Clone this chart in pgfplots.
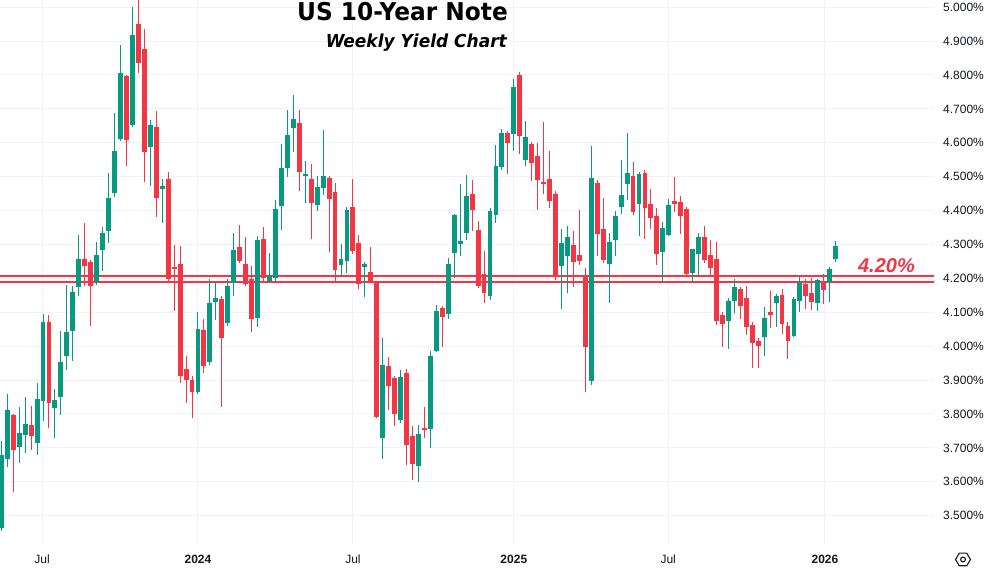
\documentclass[border=0pt]{standalone}
\usepackage{pgfplots}
\pgfplotsset{compat=1.18}
\usepackage{pgfplotstable}
\usepackage{fontspec}
\setmainfont{Liberation Sans}
\newfontfamily\titlefont{DejaVu Sans}[FakeStretch=0.95]
\definecolor{upcol}{HTML}{089981}
\definecolor{downcol}{HTML}{F23645}
\definecolor{gridcol}{HTML}{F0F3FA}
\definecolor{txtcol}{HTML}{131722}

\pgfplotstableread{
k o h l c
0 3.465 3.721 3.455 3.679
1 3.667 3.859 3.645 3.812
3 3.703 3.822 3.656 3.743
4 3.738 3.851 3.686 3.770
6 3.715 3.892 3.680 3.844
7 3.839 4.095 3.780 4.072
9 3.819 3.874 3.730 3.841
10 3.849 4.045 3.797 3.954
11 3.971 4.180 3.930 4.042
12 4.046 4.178 3.957 4.160
13 4.176 4.328 4.148 4.257
16 4.190 4.306 4.180 4.269
17 4.284 4.353 4.223 4.335
18 4.341 4.512 4.304 4.437
19 4.451 4.687 4.440 4.576
20 4.611 4.888 4.606 4.807
22 4.652 5.000 4.648 4.918
25 4.588 4.667 4.473 4.652
27 4.465 4.493 4.364 4.473
33 3.866 4.101 3.860 4.051
35 3.953 4.197 3.945 4.128
36 4.130 4.192 4.077 4.142
38 4.067 4.197 4.061 4.179
39 4.187 4.334 4.149 4.285
43 4.083 4.324 4.056 4.312
45 4.192 4.275 4.185 4.208
46 4.200 4.430 4.190 4.406
47 4.413 4.595 4.344 4.527
48 4.527 4.698 4.498 4.624
49 4.643 4.742 4.572 4.669
51 4.501 4.545 4.421 4.507
53 4.415 4.503 4.400 4.469
54 4.466 4.639 4.447 4.503
57 4.239 4.301 4.207 4.257
58 4.252 4.410 4.215 4.402
61 4.235 4.249 4.146 4.242
64 3.730 4.023 3.667 3.944
67 3.782 3.930 3.772 3.910
70 3.647 3.767 3.599 3.741
72 3.757 3.986 3.701 3.971
73 3.987 4.121 3.982 4.104
75 4.094 4.261 4.079 4.242
76 4.276 4.390 4.200 4.387
77 4.302 4.478 4.267 4.310
78 4.335 4.505 4.313 4.443
82 4.148 4.408 4.136 4.399
83 4.388 4.594 4.364 4.532
84 4.530 4.641 4.520 4.629
86 4.627 4.788 4.577 4.765
88 4.550 4.664 4.532 4.617
94 4.238 4.346 4.111 4.304
95 4.267 4.355 4.156 4.322
99 3.896 4.591 3.886 4.496
102 4.241 4.334 4.127 4.308
103 4.312 4.400 4.265 4.384
104 4.412 4.550 4.391 4.447
105 4.477 4.630 4.432 4.512
107 4.418 4.515 4.324 4.509
111 4.279 4.365 4.188 4.350
112 4.327 4.435 4.324 4.417
116 4.216 4.288 4.190 4.286
117 4.272 4.334 4.204 4.321
122 4.075 4.143 3.991 4.133
123 4.134 4.197 4.098 4.174
128 4.027 4.115 3.971 4.083
130 4.128 4.154 4.057 4.147
133 4.029 4.145 4.027 4.138
134 4.134 4.209 4.101 4.186
137 4.128 4.198 4.103 4.195
139 4.190 4.233 4.131 4.227
140 4.256 4.311 4.248 4.295
}\upc

\pgfplotstableread{
k o h l c
2 3.797 3.800 3.571 3.694
5 3.768 3.824 3.694 3.736
8 4.072 4.092 3.760 3.833
14 4.257 4.364 4.178 4.237
15 4.248 4.254 4.060 4.178
21 4.797 4.800 4.532 4.608
23 4.950 5.025 4.805 4.836
24 4.877 4.935 4.485 4.574
26 4.648 4.694 4.382 4.438
28 4.493 4.515 4.190 4.197
29 4.235 4.299 4.105 4.229
30 4.242 4.296 3.891 3.913
31 3.933 3.971 3.833 3.900
32 3.900 3.912 3.787 3.866
34 4.049 4.081 3.921 3.941
37 4.138 4.148 3.820 4.024
40 4.293 4.356 4.246 4.250
41 4.241 4.322 4.179 4.183
42 4.199 4.238 4.041 4.079
44 4.315 4.351 4.190 4.200
50 4.657 4.698 4.457 4.513
52 4.492 4.536 4.315 4.421
55 4.497 4.503 4.277 4.433
56 4.454 4.480 4.192 4.224
59 4.410 4.493 4.272 4.282
60 4.303 4.328 4.169 4.183
62 4.218 4.292 4.185 4.190
63 4.188 4.192 3.787 3.792
65 3.941 3.969 3.812 3.882
66 3.905 3.912 3.765 3.800
68 3.922 3.933 3.650 3.708
69 3.735 3.765 3.605 3.652
71 3.758 3.821 3.728 3.752
74 4.112 4.119 3.997 4.085
79 4.449 4.490 4.341 4.402
80 4.343 4.369 4.173 4.178
81 4.213 4.281 4.128 4.156
85 4.629 4.635 4.508 4.600
87 4.800 4.809 4.567 4.621
89 4.596 4.603 4.488 4.541
90 4.561 4.600 4.402 4.490
91 4.484 4.661 4.449 4.477
92 4.493 4.576 4.409 4.429
93 4.449 4.458 4.195 4.205
96 4.299 4.341 4.176 4.249
97 4.270 4.402 4.240 4.250
98 4.206 4.230 3.864 3.999
100 4.481 4.491 4.265 4.332
101 4.346 4.437 4.245 4.253
106 4.501 4.542 4.388 4.397
108 4.512 4.520 4.317 4.409
109 4.420 4.464 4.346 4.377
110 4.385 4.407 4.240 4.273
113 4.427 4.498 4.397 4.420
114 4.426 4.442 4.332 4.385
115 4.405 4.410 4.206 4.214
118 4.321 4.354 4.244 4.253
119 4.268 4.312 4.204 4.230
120 4.256 4.307 4.062 4.075
121 4.093 4.102 3.998 4.065
124 4.168 4.175 4.079 4.118
125 4.141 4.177 4.032 4.057
126 4.062 4.070 3.936 4.009
127 4.015 4.025 3.936 4.000
129 4.100 4.162 4.054 4.092
131 4.150 4.168 4.035 4.065
132 4.060 4.070 3.962 4.016
135 4.183 4.197 4.109 4.148
136 4.156 4.201 4.106 4.130
138 4.193 4.212 4.125 4.166
}\dnc

\begin{document}
\begin{tikzpicture}
\useasboundingbox (0,0) rectangle (985pt,572pt);
\fill[white] (0,0) rectangle (985pt,572pt);
\begin{axis}[
  at={(0pt,28pt)}, anchor=south west,
  scale only axis, width=934pt, height=544pt,
  xmin=-0.218, xmax=156.5, ymin=3.4165, ymax=5.0212,
  axis line style={draw=none},
  major tick length=0pt,
  xtick={6.83,33.0,59.0,86.0,111.9,138.2},
  xticklabels={Jul,\textbf{2024},Jul,\textbf{2025},Jul,\textbf{2026}},
  ytick={3.5,3.6,3.7,3.8,3.9,4.0,4.1,4.2,4.3,4.4,4.5,4.6,4.7,4.8,4.9,5.0},
  yticklabels={3.500\%,3.600\%,3.700\%,3.800\%,3.900\%,4.000\%,4.100\%,4.200\%,4.300\%,4.400\%,4.500\%,4.600\%,4.700\%,4.800\%,4.900\%,5.000\%},
  yticklabel pos=right,
  xmajorgrids, ymajorgrids,
  major grid style={gridcol, line width=1pt},
  tick label style={font=\fontsize{12}{14}\selectfont, text=txtcol},
  yticklabel style={anchor=west, inner sep=0pt, xshift=9pt},
  xticklabel style={anchor=center, inner sep=0pt, yshift=-15pt},
]
% support band
\addplot[downcol, line width=2pt, forget plot] coordinates {(-5,4.2062) (170,4.2062)};
\addplot[downcol, line width=2pt, forget plot] coordinates {(-5,4.1903) (170,4.1903)};
% wicks
\addplot[draw=none, mark=none, forget plot, error bars/.cd, y dir=plus, y explicit, error mark=none,
  error bar style={draw=upcol, line width=1pt, solid}]
  table[x=k, y=l, y error plus expr=\thisrow{h}-\thisrow{l}] {\upc};
\addplot[draw=none, mark=none, forget plot, error bars/.cd, y dir=plus, y explicit, error mark=none,
  error bar style={draw=downcol, line width=1pt, solid}]
  table[x=k, y=l, y error plus expr=\thisrow{h}-\thisrow{l}] {\dnc};
% bodies
\addplot[draw=none, mark=none, forget plot, error bars/.cd, y dir=plus, y explicit, error mark=none,
  error bar style={draw=upcol, line width=4.9pt, solid}]
  table[x=k, y=o, y error plus expr=\thisrow{c}-\thisrow{o}] {\upc};
\addplot[draw=none, mark=none, forget plot, error bars/.cd, y dir=plus, y explicit, error mark=none,
  error bar style={draw=downcol, line width=4.9pt, solid}]
  table[x=k, y=c, y error plus expr=\thisrow{o}-\thisrow{c}] {\dnc};
\end{axis}
\node[anchor=base east, inner sep=0pt, text=black, font=\titlefont\bfseries\fontsize{24.5}{28}\selectfont] at (508pt,551.3pt) {US 10-Year Note};
\node[anchor=base east, inner sep=0pt, text=black, font=\titlefont\bfseries\itshape\fontsize{17.9}{21}\selectfont] at (507pt,524.3pt) {Weekly Yield Chart};
\node[anchor=base east, inner sep=0pt, text=downcol, font=\bfseries\itshape\fontsize{20}{24}\selectfont] at (915pt,299.3pt) {4.20\%};
\draw[txtcol, line width=1.1pt] (955.5pt,12.5pt) -- (959.3pt,18.8pt) -- (966.7pt,18.8pt) -- (970.5pt,12.5pt) -- (966.7pt,6.2pt) -- (959.3pt,6.2pt) -- cycle;
\draw[txtcol, line width=1.1pt] (963pt,12.5pt) circle (2.4pt);
\end{tikzpicture}
\end{document}
